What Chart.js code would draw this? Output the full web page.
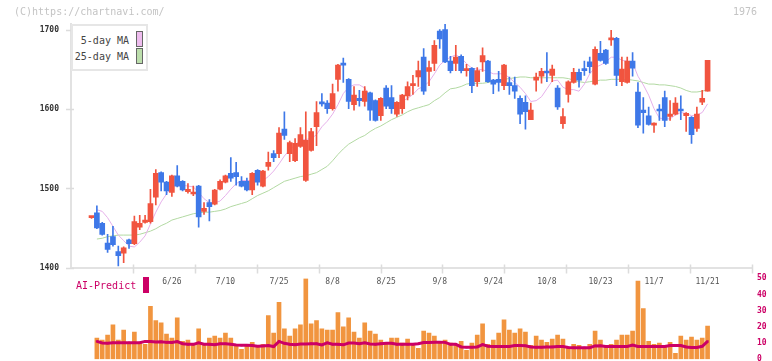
<!DOCTYPE html>
<html>
<head>
<meta charset="utf-8">
<script src="https://cdn.jsdelivr.net/npm/chart.js@4.4.1/dist/chart.umd.min.js"></script>
<style>
body { margin:0; background:#fff; }
#wrap { position:relative; width:772px; height:361px; overflow:hidden; font-family:'DejaVu Sans Mono', monospace; }
canvas { position:absolute; left:0; top:0; }
.abs { position:absolute; white-space:nowrap; font-size:10px; line-height:12px; }
</style>
</head>
<body>
<div id="wrap">
  <canvas id="price" width="772" height="361"></canvas>
  <canvas id="vol" width="772" height="369"></canvas>
  <div class="abs" style="left:14px;top:6px;color:#c4c4c4;">(C)https://chartnavi.com/</div>
  <div class="abs" style="left:733px;top:6px;color:#c4c4c4;">1976</div>
  <div class="abs" style="left:71px;top:24px;width:77px;height:47px;box-sizing:border-box;border:2px solid #e6e6e6;background:#fff;"></div>
  <div class="abs" style="left:71px;top:35px;width:58px;text-align:right;color:#444;">5-day MA</div>
  <div class="abs" style="left:136px;top:31px;width:7px;height:16px;box-sizing:border-box;border:1px solid #666;background:#eebcee;"></div>
  <div class="abs" style="left:71px;top:51px;width:58px;text-align:right;color:#444;">25-day MA</div>
  <div class="abs" style="left:136px;top:48px;width:7px;height:16px;box-sizing:border-box;border:1px solid #666;background:#bcdeac;"></div>
  <div class="abs" style="left:76px;top:280px;color:#cc0066;">AI-Predict</div>
  <div class="abs" style="left:143px;top:277px;width:6px;height:16px;background:#cc0066;"></div>
</div>
<script>
// daily candles, index 0 = oldest
const openP = [1463,1469,1456,1431,1439,1420,1418,1435,1430,1451,
 1457,1458,1489,1520,1508,1495,1516,1509,1496,1493,
 1503,1471,1482,1480,1499,1508,1519,1520,1509,1509,
 1498,1523,1503,1528,1544,1544,1575,1544,1535,1553,
 1510,1548,1578,1609,1608,1601,1638,1658,1638,1606,
 1614,1610,1621,1611,1592,1627,1615,1594,1601,1617,
 1630,1641,1666,1648,1658,1699,1701,1661,1658,1667,
 1649,1652,1635,1660,1661,1637,1638,1630,1634,1630,
 1614,1609,1587,1637,1642,1648,1643,1627,1582,1619,
 1634,1647,1651,1660,1632,1671,1675,1688,1690,1635,
 1634,1661,1622,1599,1592,1580,1600,1615,1591,1594,
 1600,1592,1590,1576,1609,1623];
const highP = [1464,1478,1457,1442,1452,1427,1426,1436,1465,1466,
 1466,1499,1524,1521,1509,1517,1529,1510,1506,1503,
 1504,1482,1486,1499,1511,1517,1539,1533,1515,1513,
 1520,1524,1523,1546,1548,1577,1597,1560,1563,1577,
 1597,1576,1610,1620,1611,1632,1657,1665,1639,1629,
 1624,1629,1622,1612,1615,1630,1630,1610,1619,1635,
 1643,1661,1677,1661,1687,1701,1708,1667,1681,1669,
 1657,1653,1653,1678,1662,1638,1648,1657,1641,1641,
 1617,1617,1608,1646,1652,1672,1656,1630,1601,1636,
 1652,1651,1661,1666,1679,1686,1676,1700,1691,1666,
 1666,1672,1634,1615,1603,1583,1606,1623,1611,1615,
 1617,1596,1591,1603,1624,1662];
const lowP = [1462,1449,1441,1419,1427,1402,1406,1424,1429,1448,
 1456,1456,1479,1497,1492,1490,1502,1497,1494,1491,
 1451,1467,1459,1479,1498,1507,1509,1504,1502,1497,
 1492,1504,1502,1523,1534,1539,1562,1534,1534,1552,
 1509,1547,1554,1604,1595,1599,1623,1634,1601,1599,
 1604,1604,1586,1585,1586,1601,1595,1591,1595,1612,
 1619,1629,1619,1630,1649,1677,1659,1646,1649,1646,
 1642,1621,1629,1648,1634,1620,1623,1625,1619,1614,
 1582,1575,1587,1623,1633,1635,1635,1600,1576,1609,
 1633,1628,1643,1646,1631,1661,1657,1681,1630,1630,
 1633,1642,1577,1570,1580,1571,1586,1578,1586,1593,
 1587,1572,1557,1572,1606,1623];
const closeP = [1464,1450,1442,1423,1429,1415,1425,1430,1458,1456,
 1460,1481,1519,1508,1497,1516,1503,1498,1499,1495,
 1464,1475,1477,1498,1509,1516,1513,1515,1503,1498,
 1519,1508,1522,1533,1539,1570,1567,1558,1557,1568,
 1561,1572,1596,1607,1601,1620,1656,1656,1610,1618,
 1611,1623,1599,1586,1614,1604,1601,1609,1618,1629,
 1631,1649,1623,1653,1681,1689,1660,1649,1666,1649,
 1651,1630,1649,1668,1635,1632,1634,1656,1630,1623,
 1594,1597,1599,1641,1648,1646,1651,1603,1591,1635,
 1647,1637,1649,1654,1676,1662,1658,1690,1643,1651,
 1661,1652,1580,1596,1581,1582,1598,1586,1594,1608,
 1598,1595,1568,1594,1614,1662];
const ma5 = [null,1473,1471,1463,1452,1441,1434,1427,1426,1432,
 1440,1455,1470,1483,1493,1502,1506,1504,1503,1502,
 1495,1487,1482,1482,1484,1491,1499,1506,1510,1510,
 1510,1509,1510,1515,1522,1531,1541,1549,1555,1561,
 1562,1563,1568,1578,1585,1594,1606,1620,1628,1631,
 1631,1627,1616,1609,1608,1606,1604,1605,1610,1614,
 1619,1626,1629,1635,1645,1656,1662,1666,1669,1665,
 1658,1652,1651,1650,1648,1645,1645,1645,1640,1634,
 1628,1620,1610,1611,1616,1626,1636,1637,1628,1625,
 1625,1623,1632,1645,1653,1656,1660,1666,1666,1662,
 1661,1659,1642,1631,1618,1601,1589,1588,1588,1593,
 1596,1595,1592,1593,1596,1607];
const ma25 = [null,1436,1437,1439,1440,1441,1441,1441,1441,1442,
 1444,1446,1449,1453,1456,1460,1462,1464,1466,1468,
 1469,1470,1470,1471,1472,1474,1477,1479,1481,1483,
 1487,1491,1494,1497,1501,1505,1509,1511,1513,1515,
 1516,1518,1520,1524,1528,1535,1543,1550,1556,1560,
 1564,1567,1572,1576,1579,1583,1587,1590,1593,1597,
 1600,1602,1604,1606,1611,1615,1621,1626,1627,1629,
 1632,1633,1633,1633,1634,1635,1636,1638,1639,1640,
 1641,1641,1640,1640,1640,1640,1640,1640,1640,1639,
 1637,1635,1634,1635,1636,1637,1637,1638,1638,1638,
 1638,1637,1636,1634,1632,1632,1631,1631,1630,1629,
 1627,1624,1622,1622,1623,1625];
const volume = [null,13,11.8,14.9,21.2,11.8,18,10.5,16.8,10.5,
 9.2,32.6,23.8,22.5,15.5,13,25.6,11,11.8,9.2,
 18.7,9.2,13,14.3,13,16.2,13,9.2,6.1,8,
 10.5,8,9.2,26.9,16.2,35.1,18.7,14.3,18.7,21.2,
 49.6,21.9,23.8,18.7,18,18,28.8,20,25.6,16.8,
 13,22.5,17.4,15.5,11.8,10.5,13,13,9.9,12.4,
 9.2,6.7,17.4,16.2,14.3,11,11.8,9.9,9.2,11,
 5.5,9.9,14.9,21.9,9.2,11.8,16.2,24.3,18,16.2,
 18.7,16.8,8.6,14.3,11.8,10.5,12.4,14.9,12.4,7.4,
 9.2,8.6,6.1,9.2,17.4,11.8,8.6,9.2,11.8,14.9,
 14.9,17.4,48.3,31.3,11,9.2,9.9,8.6,10.5,3.6,
 14.3,11.8,13.6,11.8,13,20.5];
const aiPredict = [null,11,10,9.9,10.2,10.2,10.2,10.2,10.2,10.2,
 11,11,10.6,10.8,10.4,10.3,10.9,9.6,9.2,9.2,
 10.2,9.3,9.2,9,9.5,9.5,9.3,8.8,8.6,8.6,
 8.4,8,8.2,8.4,7.8,11,9.8,9.2,9,9.4,
 9.4,9.6,9.6,8.8,10.1,9.2,9.2,8.9,10,10,
 9.5,10.1,9.4,9.2,9.6,9.9,9.9,9.2,9.2,9.2,
 9.2,9.5,10.3,10.3,10.5,10.5,10.4,9.2,9.2,7.6,
 7.4,7.4,7.6,9,8,7.9,7.9,7.9,7.9,8.4,
 8.4,8.3,7.6,7.4,7.4,7.6,7.6,7.9,7.8,7.2,
 7.1,7.1,7.1,7.1,8.2,8.3,7.9,7.9,7.9,7.9,
 7.9,8.7,7.9,7.9,7.9,7.9,7.9,7.9,8.5,8.5,
 8.5,7.6,7.3,7.3,8,11];
const dateLabels = ['6/26','7/10','7/25','8/8','8/25','9/8','9/24','10/8','10/23','11/7','11/21'];
const labelIdx = [15,25,35,45,55,65,75,85,95,105,115];
const priceTicks = [1400,1500,1600,1700];
const volTicks = [0,10,20,30,40,50];

const RED = '#f1543f', BLUE = '#3e78e8';
const XMIN = -3.83, XMAX = 123.29;
const MONO = "'DejaVu Sans Mono', monospace";

const candleCol = closeP.map((c,i) => c >= openP[i] ? RED : BLUE);
const pts = arr => arr.map((v,i) => ({x:i, y:v}));

// short marks that cross the axis lines
const tickMarks = {
	id: 'tickMarks',
	afterDraw(chart) {
		const {ctx, chartArea: a, scales: {x, y}} = chart;
		ctx.save();
		ctx.strokeStyle = '#dcdcdc';
		ctx.lineWidth = 1.5;
		ctx.beginPath();
		priceTicks.forEach(v => {
			const py = Math.round(y.getPixelForValue(v)) + 0.5;
			ctx.moveTo(a.left - 5, py); ctx.lineTo(a.left + 3, py);
		});
		for (let k = 1; k <= 11; k++) {
			const px = Math.round(x.getPixelForValue(XMIN + k*(XMAX-XMIN)/11)) + 0.5;
			ctx.moveTo(px, a.bottom - 3); ctx.lineTo(px, a.bottom + 6);
		}
		ctx.stroke();
		ctx.restore();
	}
};

new Chart(document.getElementById('price'), {
	type: 'bar',
	data: {
		datasets: [
			{type:'line', label:'5-day MA', data: pts(ma5), borderColor:'#e6b0ea', borderWidth:1, pointRadius:0, order:3},
			{type:'line', label:'25-day MA', data: pts(ma25), borderColor:'#b2d9a2', borderWidth:1, pointRadius:0, order:4},
			{label:'wick', data: lowP.map((l,i) => ({x:i, y:[l, highP[i]]})), backgroundColor: candleCol, barThickness:1, grouped:false, order:2},
			{label:'body', data: openP.map((o,i) => ({x:i, y:[o, closeP[i]]})), backgroundColor: candleCol, barThickness:5, minBarLength:2, grouped:false, order:1},
		]
	},
	options: {
		responsive:false, animation:false,
		layout: {padding: {left:0, right:20, top:24, bottom:0}},
		plugins: {legend:{display:false}, tooltip:{enabled:false}},
		scales: {
			x: {
				type:'linear', min:XMIN, max:XMAX, offset:false,
				grid: {display:false, drawTicks:false, tickLength:0},
				border: {display:true, color:'#e2e2e2', width:2},
				afterBuildTicks: s => { s.ticks = labelIdx.map(v => ({value:v})); },
				afterFit: s => { s.height = 361 - 267.5; },
				ticks: {autoSkip:false, maxRotation:0, padding:10, color:'#555',
					font:{family:MONO, size:8},
					callback: v => dateLabels[labelIdx.indexOf(v)]}
			},
			y: {
				min:1400, max:1708,
				grid: {display:false, drawTicks:false, tickLength:0},
				border: {display:true, color:'#e2e2e2', width:2},
				afterBuildTicks: s => { s.ticks = priceTicks.map(v => ({value:v})); },
				afterFit: s => { s.width = 71; },
				ticks: {padding:12, color:'#333', font:{family:MONO, size:8, weight:'bold'},
					callback: v => String(v)}
			}
		}
	},
	plugins: [tickMarks]
});

new Chart(document.getElementById('vol'), {
	type: 'bar',
	data: {
		datasets: [
			{type:'line', label:'AI-Predict', data: pts(aiPredict), borderColor:'#cc0066', borderWidth:3, pointRadius:1.5, pointStyle:'rect', pointBackgroundColor:'#cc0066', pointBorderWidth:0, order:0},
			{label:'volume', data: pts(volume), backgroundColor:'#f1953f', barThickness:4, grouped:false, order:1},
		]
	},
	options: {
		responsive:false, animation:false,
		layout: {padding: {left:71, right:0, top:278.3, bottom:3.3}},
		plugins: {legend:{display:false}, tooltip:{enabled:false}},
		scales: {
			x: {type:'linear', min:XMIN, max:XMAX, offset:false, display:false},
			y: {
				position:'right', min:0, max:50,
				grid: {display:false, drawTicks:false, tickLength:0},
				border: {display:false},
				afterBuildTicks: s => { s.ticks = volTicks.map(v => ({value:v})); },
				afterFit: s => { s.width = 20; },
				ticks: {padding:5, color:'#cc0066', font:{family:MONO, size:8, weight:'bold'}}
			}
		}
	}
});
</script>
</body>
</html>
